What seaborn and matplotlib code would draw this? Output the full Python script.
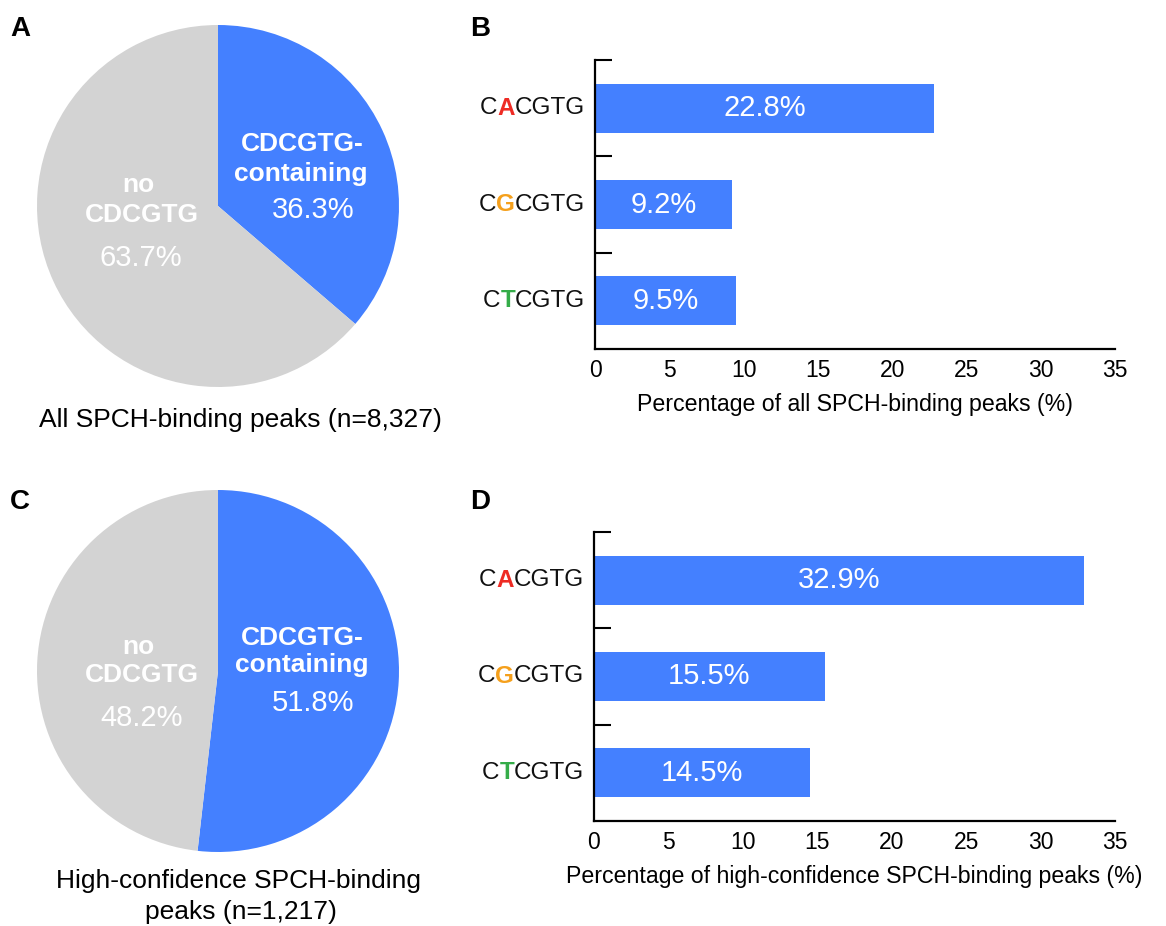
import matplotlib
matplotlib.use("Agg")
import matplotlib.pyplot as plt
import seaborn as sns

# ---- data ----
pie_labels = ["CDCGTG-containing", "no CDCGTG"]
pie_all = [36.3, 63.7]          # all SPCH-binding peaks (n=8,327)
pie_high = [51.8, 48.2]         # high-confidence peaks (n=1,217)

motifs = ["CACGTG", "CGCGTG", "CTCGTG"]
motif_mid = ["A", "G", "T"]
pct_all = [22.8, 9.2, 9.5]
pct_high = [32.9, 15.5, 14.5]

xticks = [0, 5, 10, 15, 20, 25, 30, 35]

BLUE = "#4480FF"
GRAY = "#D3D3D3"
MID_COLORS = ["#EE2B24", "#F5A01C", "#34AC48"]

sns.set_theme(style="white")
plt.rcParams["font.family"] = ["Liberation Sans", "DejaVu Sans"]

W, H = 1166, 926
fig = plt.figure(figsize=(W / 100, H / 100), dpi=100)
fig.patch.set_facecolor("white")


def box(left, top, width, height):
    return [left / W, 1 - (top + height) / H, width / W, height / H]


def draw_pie(rect, values, big_pos, small_pos):
    ax = fig.add_axes(rect)
    ax.pie(values, colors=[BLUE, GRAY], startangle=90, counterclock=False,
           radius=1, wedgeprops=dict(linewidth=0))
    ax.set_xlim(-1, 1)
    ax.set_ylim(-1, 1)
    ax.set_aspect("equal")
    ax.axis("off")
    # labels for the blue slice
    (x1, y1), (x2, y2), (x3, y3) = big_pos
    ax.text(x1, y1, "CDCGTG-", ha="center", va="center", color="white",
            fontsize=19, fontweight="bold")
    ax.text(x2, y2, "containing", ha="center", va="center_baseline", color="white",
            fontsize=19, fontweight="bold")
    ax.text(x3, y3, f"{values[0]}%", ha="center", va="center", color="white",
            fontsize=21)
    # labels for the gray slice
    (x1, y1), (x2, y2), (x3, y3) = small_pos
    ax.text(x1, y1, "no", ha="center", va="center_baseline", color="white",
            fontsize=19, fontweight="bold")
    ax.text(x2, y2, "CDCGTG", ha="center", va="center", color="white",
            fontsize=19, fontweight="bold")
    ax.text(x3, y3, f"{values[1]}%", ha="center", va="center", color="white",
            fontsize=21)
    return ax


def draw_bars(rect, values, xlabel):
    ax = fig.add_axes(rect)
    sns.barplot(x=values, y=motifs, color=BLUE, saturation=1, width=0.51,
                orient="h", ax=ax, linewidth=0)
    ax.set_xlim(0, 35)
    ax.set_ylim(2.5, -0.5)
    for side in ("top", "right"):
        ax.spines[side].set_visible(False)
    for side in ("left", "bottom"):
        ax.spines[side].set_color("black")
        ax.spines[side].set_linewidth(1.6)
    ax.set_xticks(xticks)
    ax.set_xticklabels([str(t) for t in xticks])
    ax.tick_params(axis="x", direction="in", length=7, width=1.5,
                   labelsize=16.5, pad=7, colors="black")
    ax.set_yticks([0, 1, 2])
    ax.set_yticklabels(["", "", ""])
    ax.tick_params(axis="y", which="major", length=0)
    ax.set_yticks([-0.5, 0.5, 1.5], minor=True)
    ax.tick_params(axis="y", which="minor", direction="in", length=12,
                   width=1.5, left=True, color="black")
    ax.set_xlabel(xlabel, fontsize=16.7, labelpad=8, color="black")
    ax.set_ylabel("")

    # value labels inside the bars
    for i, v in enumerate(values):
        ax.text(v / 2, i, f"{v}%", ha="center", va="center", color="white",
                fontsize=21)

    # motif labels with the variable base highlighted
    for i, (m, mid, col) in enumerate(zip(motifs, motif_mid, MID_COLORS)):
        tail = ax.annotate(m[2:], xy=(0, i), xycoords=("axes fraction", "data"),
                           xytext=(-7, 0), textcoords="offset points",
                           ha="right", va="center", fontsize=17.5, color="#111111")
        midt = ax.annotate(mid, xy=(0, 0.5), xycoords=tail, ha="right",
                           va="center", fontsize=17.5, color=col,
                           fontweight="bold")
        ax.annotate(m[0], xy=(0, 0.5), xycoords=midt, ha="right", va="center",
                    fontsize=17.5, color="#111111")
    return ax


# panel A / C: pies
draw_pie(box(37, 25, 362, 362), pie_all,
         [(0.464, 0.340), (0.459, 0.193), (0.525, -0.022)],
         [(-0.442, 0.128), (-0.42, -0.05), (-0.425, -0.287)])
draw_pie(box(37, 490, 362, 362), pie_high,
         [(0.464, 0.182), (0.464, 0.048), (0.525, -0.177)],
         [(-0.442, 0.148), (-0.42, -0.022), (-0.42, -0.26)])

fig.text(240 / W, 1 - 420 / H, "All SPCH-binding peaks (n=8,327)",
         ha="center", va="center", fontsize=19, color="black")
fig.text(239 / W, 1 - 881 / H, "High-confidence SPCH-binding",
         ha="center", va="center", fontsize=19, color="black")
fig.text(241 / W, 1 - 912 / H, "peaks (n=1,217)",
         ha="center", va="center", fontsize=19, color="black")

# panel B / D: bars
draw_bars(box(595, 60, 520, 289), pct_all,
          "Percentage of all SPCH-binding peaks (%)")
draw_bars(box(594, 532, 521, 289), pct_high,
          "Percentage of high-confidence SPCH-binding peaks (%)")

# panel letters
for letter, (x, y) in zip("ABCD", [(20, 29), (480, 29), (20, 502), (480, 502)]):
    fig.text(x / W, 1 - y / H, letter, ha="center", va="center",
             fontsize=20, fontweight="bold", color="black")

fig.savefig("out.png", dpi=100, facecolor="white")
